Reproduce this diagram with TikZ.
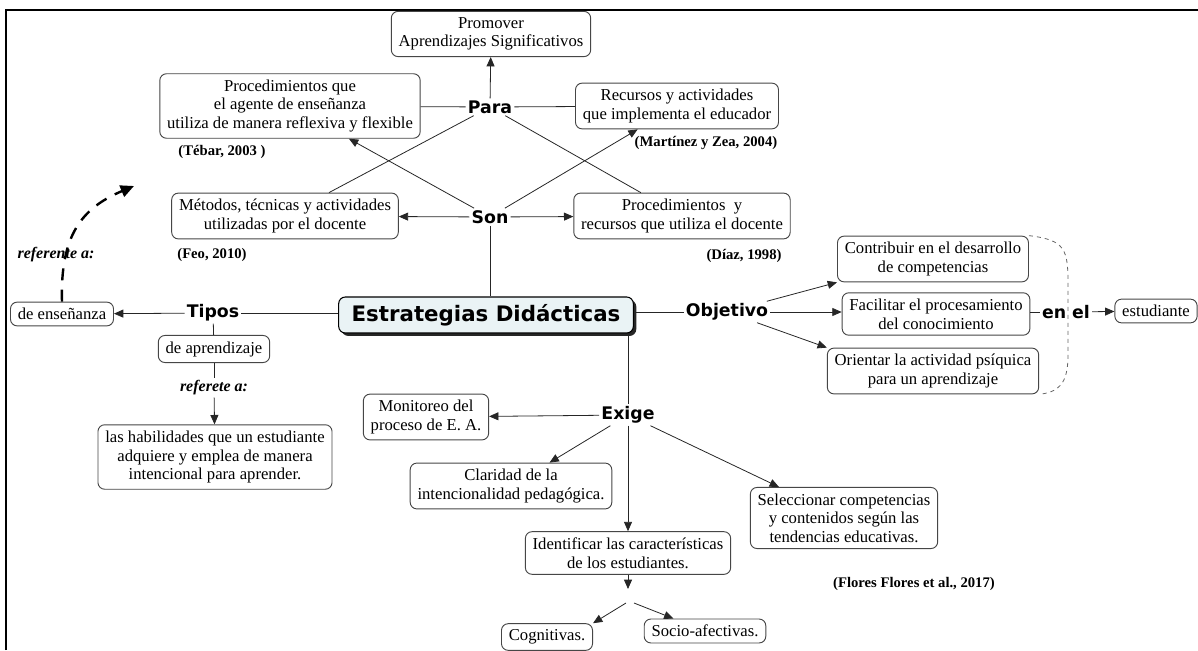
\documentclass[tikz,border=0pt]{standalone}
\usepackage{fontspec}
\setmainfont{Liberation Serif}
\newfontfamily\labelfont{DejaVu Sans}
\usepackage{tikz}
\usetikzlibrary{positioning, arrows.meta, shadows}
\definecolor{boxLineCol}{RGB}{70, 70, 70}
\definecolor{mainFillCol}{RGB}{234, 243, 245}
\tikzset{myFrame/.style={line width=2.2pt, color=black}}
\tikzset{myBox/.style={draw=boxLineCol, line width=0.7pt, rounded corners=5pt, fill=white, align=center, inner xsep=5.5pt, inner ysep=4.5pt, font=\fontsize{12.5}{14}\selectfont}}
\tikzset{myMain/.style={draw=black, line width=0.8pt, rounded corners=5pt, fill=mainFillCol, minimum width=221pt, minimum height=27pt, font=\labelfont\bfseries\fontsize{16}{18}\selectfont, drop shadow={shadow xshift=2.2pt, shadow yshift=-2.2pt, fill=black!85, opacity=1}}}
\tikzset{myLabel/.style={inner sep=1.5pt, font=\labelfont\bfseries\fontsize{13}{15}\selectfont}}
\tikzset{myCite/.style={inner sep=1pt, font=\bfseries\fontsize{11}{13}\selectfont}}
\tikzset{myRef/.style={inner sep=1.5pt, font=\bfseries\itshape\fontsize{12}{14}\selectfont}}
\tikzset{myLink/.style={line width=0.6pt, color=black!85}}
\tikzset{myArrow/.style={myLink, -{Triangle[length=7pt, width=6pt]}}}
\tikzset{myDash/.style={line width=1.8pt, dash pattern=on 9pt off 7pt, -{Triangle[length=10pt, width=9pt]}}}
\tikzset{myBracket/.style={line width=0.6pt, color=black!60, dashed}}

\begin{document}
\begin{tikzpicture}[x=0.75pt, y=-0.75pt]
	\useasboundingbox (0,0) rectangle (1198,650);
	\draw[myFrame] (6,650) -- (6,10) -- (1198,10);

	%top part
	\node[myBox] (promover) at (491,34) {Promover\\Aprendizajes Significativos};
	\node[myBox] (procQue) at (290,106) {Procedimientos que\\el agente de enseñanza\\utiliza de manera reflexiva y flexible};
	\node[myCite] (tebar) at (222,152) {(Tébar, 2003 )};
	\node[myLabel] (para) at (490,107) {Para};
	\node[myBox] (recursos) at (677,106) {Recursos y actividades\\que implementa el educador};
	\node[myCite] (martinez) at (706,143) {(Martínez y Zea, 2004)};
	\node[myBox] (metodos) at (285,216) {Métodos, técnicas y actividades\\utilizadas por el docente};
	\node[myCite] (feo) at (212,255) {(Feo, 2010)};
	\node[myLabel] (son) at (490,217) {Son};
	\node[myBox] (procY) at (682,216) {Procedimientos\ \ y\\recursos que utiliza el docente};
	\node[myCite] (diaz) at (744,256) {(Díaz, 1998)};

	\node[myMain] (estrat) at (486,315) {Estrategias Didácticas};

	%left part
	\node[myLabel] (tipos) at (213,313) {Tipos};
	\node[myBox] (ensenanza) at (62,314) {de enseñanza};
	\node[myBox] (aprendizaje) at (214,349) {de aprendizaje};
	\node[myRef] (referete) at (214,388) {referete a:};
	\node[myBox] (habilidades) at (215,457) {las habilidades que un estudiante\\adquiere y emplea de manera\\intencional para aprender.};
	\node[myRef] (referente) at (56,255) {referente a:};
	\coordinate (ensTip) at (134,186);

	%right part
	\node[myLabel] (objetivo) at (727,312) {Objetivo};
	\node[myBox] (contribuir) at (933,259) {Contribuir en el desarrollo\\de competencias};
	\node[myBox] (facilitar) at (936,314) {Facilitar el procesamiento\\del conocimiento};
	\node[myBox] (orientar) at (933,371) {Orientar la actividad psíquica\\para un aprendizaje};
	\node[myLabel] (enel) at (1066,312) {en el};
	\node[myBox] (estudiante) at (1156,311) {estudiante};

	%bottom part
	\node[myLabel] (exige) at (628,415) {Exige};
	\node[myBox] (monitoreo) at (426,417) {Monitoreo del\\proceso de E. A.};
	\node[myBox] (claridad) at (511,486) {Claridad de la\\intencionalidad pedagógica.};
	\node[myBox] (seleccionar) at (844,518) {Seleccionar competencias\\y contenidos según las\\tendencias educativas.};
	\node[myBox] (identificar) at (628,553) {Identificar las características\\de los estudiantes.};
	\coordinate (splitTop) at (628,589);
	\coordinate (splitL) at (626,603);
	\coordinate (splitR) at (634,603);
	\node[myBox] (cognitivas) at (547,637) {Cognitivas.};
	\node[myBox] (socio) at (705,631) {Socio-afectivas.};
	\node[myCite] (flores) at (914,584) {(Flores Flores et al., 2017)};

	\draw[myArrow] (para) -- (promover);
	\draw[myLink] (procQue) -- (para);
	\draw[myLink] (para) -- (recursos);
	\draw[myLink] (metodos) -- (para);
	\draw[myLink] (procY) -- (para);
	\draw[myArrow] (son) -- (procQue);
	\draw[myArrow] (son) -- (recursos);
	\draw[myArrow] (son) -- (metodos);
	\draw[myArrow] (son) -- (procY);
	\draw[myLink] (son) -- (son |- estrat.north);

	\draw[myLink] (estrat.west |- tipos) -- (tipos);
	\draw[myArrow] (tipos) -- (ensenanza);
	\draw[myLink] (tipos) -- (aprendizaje);
	\draw[myLink] (aprendizaje) -- (referete);
	\draw[myArrow] (referete) -- (habilidades);
	\draw[myDash] (ensenanza.north) .. controls (60,235) and (82,208) .. (ensTip);

	\draw[myLink] (estrat.east |- objetivo) -- (objetivo);
	\draw[myArrow] (objetivo) -- (contribuir.south west);
	\draw[myArrow] (objetivo) -- (facilitar.west |- objetivo);
	\draw[myArrow] (objetivo) -- (orientar.north west);
	\draw[myLink] (facilitar.east |- enel) -- (enel);
	\draw[myArrow] (enel) -- (estudiante);
	\draw[myBracket] (contribuir.north east) .. controls (1066,240) and (1068,250) .. (1068,285) -- (1068,355) .. controls (1068,385) and (1058,392) .. (orientar.south east);

	\draw[myLink] (estrat.south -| exige) -- (exige);
	\draw[myArrow] (exige) -- (monitoreo);
	\draw[myArrow] (exige) -- (claridad);
	\draw[myArrow] (exige) -- (seleccionar);
	\draw[myArrow] (exige) -- (identificar);
	\draw[myArrow] (identificar) -- (splitTop);
	\draw[myArrow] (splitL) -- (cognitivas.north east);
	\draw[myArrow] (splitR) -- (socio);
\end{tikzpicture}
\end{document}
